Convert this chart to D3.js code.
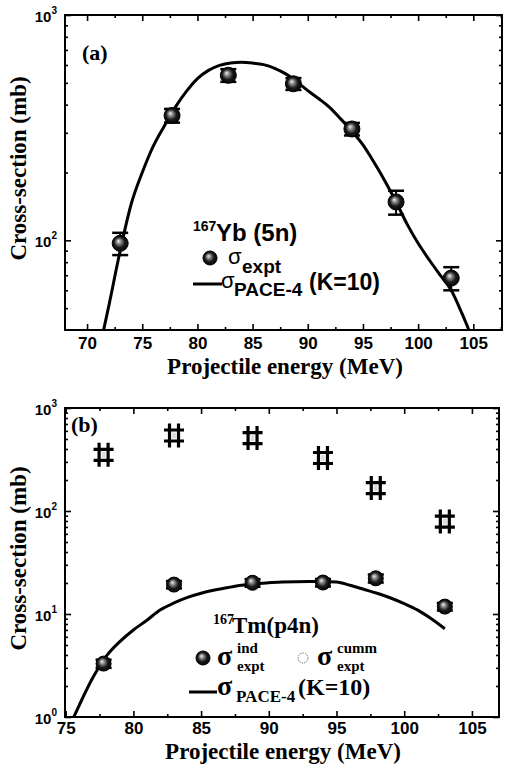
<!DOCTYPE html>
<html><head><meta charset="utf-8">
<script src="https://cdn.jsdelivr.net/npm/d3@7"></script>
<style>body{margin:0;background:#fff}svg{display:block}</style>
</head><body><svg id="c" width="505" height="770"></svg>
<script>
// ---------- data: panel (a) 167Yb (5n) ----------
const energyA = [73.0, 77.7, 82.8, 88.7, 94.0, 98.0, 103.0];
const sigmaA  = [97, 358, 540, 495, 312, 148, 68];
const errA    = [11, 25, 35, 30, 20, 18, 8];
const paceEnergyA = [71.5, 72, 73, 74, 75, 76, 77, 78, 79, 80, 81, 82, 83, 84, 85, 86, 87, 88, 89, 90, 91, 92, 93, 94, 95, 96, 97, 98, 99, 100, 101, 102, 103, 104, 104.6];
const paceSigmaA  = [40, 52, 90, 145, 200, 262, 322, 390, 458, 522, 568, 598, 613, 617, 612, 602, 580, 548, 505, 462, 425, 388, 345, 305, 265, 222, 183, 148, 118, 97, 82, 70, 60, 47, 40];
// ---------- data: panel (b) 167Tm (p4n) ----------
const energyB   = [77.8, 83.0, 88.8, 94.0, 97.9, 103.0];
const sigmaIndB = [3.3, 19.3, 20.1, 20.2, 22.2, 11.8];
const errIndB   = [0.3, 1.6, 1.7, 1.7, 2.0, 1.0];
const sigmaCumB = [351, 541, 511, 327, 167, 79];
const paceEnergyB = [75.6, 76, 77, 78, 79, 80, 81, 82, 83, 84, 85, 86, 87, 88, 89, 90, 91, 92, 93, 94, 95, 96, 97, 98, 99, 100, 101, 102, 103];
const paceSigmaB  = [1.0, 1.3, 2.4, 3.9, 5.4, 7.0, 8.7, 11.0, 12.8, 14.5, 15.9, 17.1, 18.1, 19.0, 19.6, 20.1, 20.4, 20.6, 20.7, 20.7, 20.5, 19.0, 17.4, 15.9, 14.3, 12.6, 10.9, 9.0, 7.2];
// ---------- tick labels ----------
const xTicksA = [70, 75, 80, 85, 90, 95, 100, 105];
const xTicksB = [75, 80, 85, 90, 95, 100, 105];
const yTicksA = [{v: 100, e: "2"}, {v: 1000, e: "3"}];
const yTicksB = [{v: 1, e: "0"}, {v: 10, e: "1"}, {v: 100, e: "2"}, {v: 1000, e: "3"}];

const svg = d3.select("#c");
const defs = svg.append("defs");
const g = defs.append("radialGradient").attr("id", "ball")
  .attr("cx", "50%").attr("cy", "50%").attr("r", "55%").attr("fx", "38%").attr("fy", "35%");
g.append("stop").attr("offset", "0%").attr("stop-color", "#f4f4f4");
g.append("stop").attr("offset", "22%").attr("stop-color", "#9a9a9a");
g.append("stop").attr("offset", "60%").attr("stop-color", "#1a1a1a");
g.append("stop").attr("offset", "100%").attr("stop-color", "#000");

const SANS = "Liberation Sans, Arial, sans-serif";
const SERIF = "Liberation Serif, Times New Roman, serif";

function logMinor(lo, hi) {
  const out = [];
  for (let d = Math.floor(Math.log10(lo)); d <= Math.ceil(Math.log10(hi)); d++) {
    for (let k = 2; k <= 9; k++) { const v = k * Math.pow(10, d); if (v > lo && v < hi) out.push(v); }
  }
  return out;
}

function panel(o) {
  const x = d3.scaleLinear().domain(o.xDomain).range([o.left, o.right]);
  const y = d3.scaleLog().domain(o.yDomain).range([o.bottom, o.top]);
  const root = svg.append("g");
  const id = "clip" + o.name;
  defs.append("clipPath").attr("id", id).append("rect")
    .attr("x", o.left).attr("y", o.top).attr("width", o.right - o.left).attr("height", o.bottom - o.top);

  const minorX = d3.range(o.xDomain[0], o.xDomain[1], 0.5).map(v => Math.round(v * 2) / 2).filter(v => v % 5 === 2.5 && v > o.xDomain[0] && v < o.xDomain[1]);
  const styleAxis = sel => { sel.select(".domain").remove(); sel.selectAll("line").attr("stroke", "#000").attr("stroke-width", 1.6); };
  root.append("g").attr("transform", `translate(0,${o.bottom})`)
    .call(d3.axisBottom(x).tickValues(o.xTicks).tickSize(-6).tickSizeOuter(0).tickPadding(o.tickPad).tickFormat(d3.format("d")))
    .call(styleAxis)
    .call(s => s.selectAll("text").attr("font-family", SANS).attr("font-weight", "bold").attr("font-size", 17).attr("fill", "#000"));
  root.append("g").attr("transform", `translate(0,${o.bottom})`)
    .call(d3.axisBottom(x).tickValues(minorX).tickSize(-3).tickSizeOuter(0).tickFormat(""))
    .call(styleAxis);
  root.append("g").attr("transform", `translate(0,${o.top})`)
    .call(d3.axisTop(x).tickValues(o.xTicks).tickSize(-6).tickSizeOuter(0).tickFormat(""))
    .call(styleAxis);
  root.append("g").attr("transform", `translate(0,${o.top})`)
    .call(d3.axisTop(x).tickValues(minorX).tickSize(-3).tickSizeOuter(0).tickFormat(""))
    .call(styleAxis);
  const majY = o.yTicks.map(t => t.v);
  const minY = logMinor(o.yDomain[0], o.yDomain[1]);
  [[o.left, d3.axisLeft], [o.right, d3.axisRight]].forEach(([px, ax]) => {
    root.append("g").attr("transform", `translate(${px},0)`)
      .call(ax(y).tickValues(majY).tickSize(-6).tickSizeOuter(0).tickFormat(""))
      .call(styleAxis);
    root.append("g").attr("transform", `translate(${px},0)`)
      .call(ax(y).tickValues(minY).tickSize(-3).tickSizeOuter(0).tickFormat(""))
      .call(styleAxis);
  });
  o.yTicks.forEach(t => {
    const tx = root.append("text").attr("x", o.left - 8).attr("y", y(t.v) + 7)
      .attr("text-anchor", "end").attr("font-family", SANS).attr("font-weight", "bold").attr("font-size", 15);
    tx.append("tspan").text("10");
    tx.append("tspan").attr("font-size", 10).attr("dy", -8).text(t.e);
  });
  root.append("rect").attr("x", o.left).attr("y", o.top).attr("width", o.right - o.left).attr("height", o.bottom - o.top)
    .attr("fill", "none").attr("stroke", "#000").attr("stroke-width", 2);
  root.append("text").attr("transform", `translate(${o.yTitleX},${(o.top + o.bottom) / 2 + o.yTitleShift}) rotate(-90)`)
    .attr("text-anchor", "middle").attr("font-family", SERIF).attr("font-weight", "bold").attr("font-size", 23)
    .text("Cross-section (mb)");
  root.append("text").attr("x", o.xTitleX).attr("y", o.xTitleY)
    .attr("text-anchor", "middle").attr("font-family", SERIF).attr("font-weight", "bold").attr("font-size", 23)
    .text("Projectile energy (MeV)");
  const plot = root.append("g").attr("clip-path", `url(#${id})`);
  return {x, y, root, plot};
}

// ---------------- panel (a) ----------------
const A = panel({name: "a", xDomain: [68, 107.6], yDomain: [40, 1000], left: 65, right: 502, top: 15, bottom: 330,
  xTicks: xTicksA, yTicks: yTicksA, yTitleX: 26, yTitleShift: -4, xTitleX: 285, xTitleY: 374, tickPad: 7});
const lineA = d3.line().x((d, i) => A.x(paceEnergyA[i])).y(d => A.y(d)).curve(d3.curveMonotoneX);
A.plot.append("path").attr("d", lineA(paceSigmaA)).attr("fill", "none").attr("stroke", "#000").attr("stroke-width", 3);
const ptsA = A.plot.selectAll("g.pa").data(sigmaA).join("g");
ptsA.append("line").attr("x1", (d, i) => A.x(energyA[i])).attr("x2", (d, i) => A.x(energyA[i]))
  .attr("y1", (d, i) => A.y(d - errA[i])).attr("y2", (d, i) => A.y(d + errA[i])).attr("stroke", "#000").attr("stroke-width", 2);
[-1, 1].forEach(s => ptsA.append("line")
  .attr("x1", (d, i) => A.x(energyA[i]) - 8).attr("x2", (d, i) => A.x(energyA[i]) + 8)
  .attr("y1", (d, i) => A.y(d + s * errA[i])).attr("y2", (d, i) => A.y(d + s * errA[i]))
  .attr("stroke", "#000").attr("stroke-width", 2.5));
ptsA.append("circle").attr("cx", (d, i) => A.x(energyA[i])).attr("cy", d => A.y(d)).attr("r", 8)
  .attr("fill", "url(#ball)").attr("stroke", "#000").attr("stroke-width", 1);
A.root.append("text").attr("x", 82).attr("y", 60).attr("font-family", SERIF).attr("font-weight", "bold").attr("font-size", 22).text("(a)");
// legend (a)
{
  const L = A.root.append("g").attr("font-family", SANS);
  L.append("text").attr("x", 193).attr("y", 231).attr("font-weight", "bold").attr("font-size", 14).text("167");
  L.append("text").attr("x", 216).attr("y", 241).attr("font-weight", "bold").attr("font-size", 24).text("Yb (5n)");
  L.append("circle").attr("cx", 210).attr("cy", 258).attr("r", 7).attr("fill", "url(#ball)").attr("stroke", "#000");
  L.append("text").attr("x", 228).attr("y", 264).attr("font-size", 22).text("σ");
  L.append("text").attr("x", 242).attr("y", 273).attr("font-size", 19).attr("font-weight", "bold").text("expt");
  L.append("line").attr("x1", 193).attr("x2", 222).attr("y1", 284).attr("y2", 284).attr("stroke", "#000").attr("stroke-width", 3);
  L.append("text").attr("x", 221).attr("y", 288).attr("font-size", 22).text("σ");
  L.append("text").attr("x", 234).attr("y", 296).attr("font-size", 19).attr("font-weight", "bold").text("PACE-4");
  L.append("text").attr("x", 309).attr("y", 290).attr("font-size", 23).attr("font-weight", "bold").text("(K=10)");
}

// ---------------- panel (b) ----------------
const B = panel({name: "b", xDomain: [74.95, 107], yDomain: [1, 1000], left: 65, right: 499, top: 408, bottom: 717,
  xTicks: xTicksB, yTicks: yTicksB, yTitleX: 26, yTitleShift: -4, xTitleX: 283, xTitleY: 759, tickPad: 5});
const lineB = d3.line().x((d, i) => B.x(paceEnergyB[i])).y(d => B.y(d)).curve(d3.curveMonotoneX);
B.plot.append("path").attr("d", lineB(paceSigmaB)).attr("fill", "none").attr("stroke", "#000").attr("stroke-width", 3);
const ptsC = B.plot.selectAll("g.pc").data(sigmaCumB).join("g");
ptsC.append("path").attr("d", (d, i) => {
  const cx = B.x(energyB[i]), cy = B.y(d);
  return `M${cx - 4.5},${cy - 12}V${cy + 12}M${cx + 4.5},${cy - 12}V${cy + 12}` +
         `M${cx - 10},${cy - 5.5}H${cx + 10}M${cx - 10},${cy + 5.5}H${cx + 10}`;
}).attr("stroke", "#000").attr("stroke-width", 3.2).attr("fill", "none");
ptsC.append("rect").attr("x", (d, i) => B.x(energyB[i]) - 2).attr("y", d => B.y(d) - 3).attr("width", 4).attr("height", 6).attr("fill", "#ddd");
const ptsI = B.plot.selectAll("g.pi").data(sigmaIndB).join("g");
ptsI.append("line").attr("x1", (d, i) => B.x(energyB[i])).attr("x2", (d, i) => B.x(energyB[i]))
  .attr("y1", (d, i) => B.y(d - errIndB[i])).attr("y2", (d, i) => B.y(d + errIndB[i])).attr("stroke", "#000").attr("stroke-width", 2);
[-1, 1].forEach(s => ptsI.append("line")
  .attr("x1", (d, i) => B.x(energyB[i]) - 8).attr("x2", (d, i) => B.x(energyB[i]) + 8)
  .attr("y1", (d, i) => B.y(d + s * errIndB[i])).attr("y2", (d, i) => B.y(d + s * errIndB[i]))
  .attr("stroke", "#000").attr("stroke-width", 2.5));
ptsI.append("circle").attr("cx", (d, i) => B.x(energyB[i])).attr("cy", d => B.y(d)).attr("r", 7.5)
  .attr("fill", "url(#ball)").attr("stroke", "#000").attr("stroke-width", 1);
B.root.append("text").attr("x", 71).attr("y", 432).attr("font-family", SERIF).attr("font-weight", "bold").attr("font-size", 22).text("(b)");
// legend (b)
{
  const L = B.root.append("g").attr("font-family", SERIF).attr("font-weight", "bold");
  L.append("text").attr("x", 213).attr("y", 624).attr("font-size", 14).text("167");
  L.append("text").attr("x", 232).attr("y", 633).attr("font-size", 23).text("Tm(p4n)");
  L.append("circle").attr("cx", 203).attr("cy", 658).attr("r", 7).attr("fill", "url(#ball)").attr("stroke", "#000");
  L.append("text").attr("x", 217).attr("y", 665).attr("font-size", 28).text("σ");
  L.append("text").attr("x", 237).attr("y", 653).attr("font-size", 15).text("ind");
  L.append("text").attr("x", 237).attr("y", 671).attr("font-size", 15).text("expt");
  L.append("circle").attr("cx", 303).attr("cy", 658).attr("r", 5).attr("fill", "#fff").attr("stroke", "#777").attr("stroke-width", 1).attr("stroke-dasharray", "1.5,1");
  L.append("text").attr("x", 317).attr("y", 665).attr("font-size", 28).text("σ");
  L.append("text").attr("x", 337).attr("y", 653).attr("font-size", 15).text("cumm");
  L.append("text").attr("x", 337).attr("y", 671).attr("font-size", 15).text("expt");
  L.append("line").attr("x1", 189).attr("x2", 217).attr("y1", 692).attr("y2", 692).attr("stroke", "#000").attr("stroke-width", 3);
  L.append("text").attr("x", 217).attr("y", 695).attr("font-size", 28).text("σ");
  L.append("text").attr("x", 236).attr("y", 702).attr("font-size", 17).text("PACE-4");
  L.append("text").attr("x", 298).attr("y", 695).attr("font-size", 24).text("(K=10)");
}
</script></body></html>
